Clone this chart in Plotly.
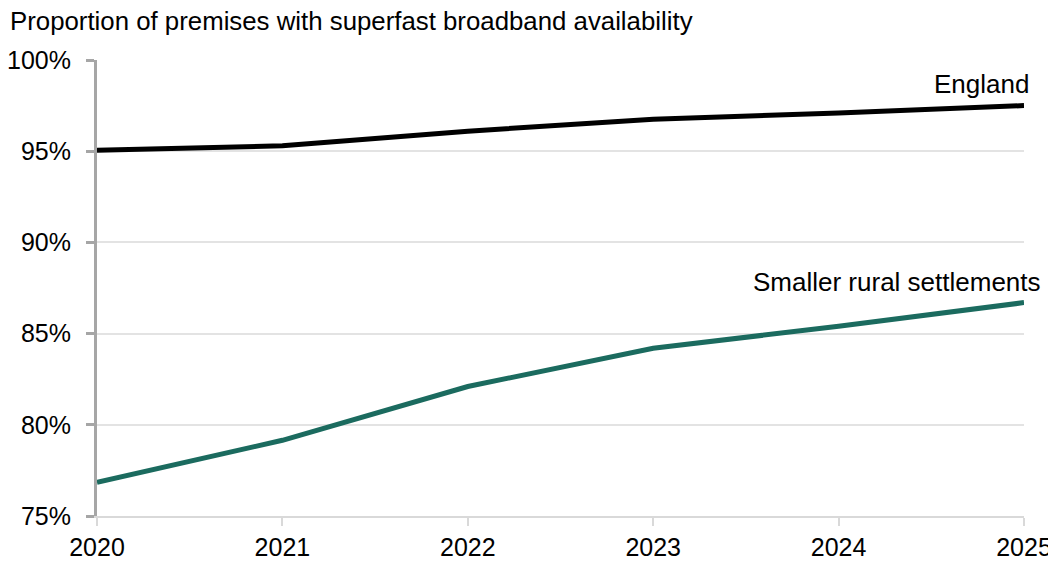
import plotly.graph_objects as go

years = [2020, 2021, 2022, 2023, 2024, 2025]
england = [95.05, 95.3, 96.1, 96.75, 97.1, 97.5]
rural = [76.85, 79.15, 82.1, 84.2, 85.4, 86.7]
y_ticks = [75, 80, 85, 90, 95, 100]
y_tick_labels = ["75%", "80%", "85%", "90%", "95%", "100%"]

FONT = "Liberation Sans, Arial, sans-serif"
FS = 25

# page body has an 8px margin; size the figure so it fits the 1056x561 window
W, H = 1048, 553

fig = go.Figure()
fig.add_trace(go.Scatter(x=years, y=england, mode="lines", name="England",
                         line=dict(color="#000000", width=5), cliponaxis=False))
fig.add_trace(go.Scatter(x=years, y=rural, mode="lines", name="Smaller rural settlements",
                         line=dict(color="#1b6b5f", width=5), cliponaxis=False))

fig.add_annotation(x=years[-1], y=england[-1], text="England", xref="x", yref="y",
                   xanchor="right", yanchor="middle", xshift=7, yshift=22, showarrow=False,
                   font=dict(family=FONT, size=26, color="#000000"))
fig.add_annotation(x=years[-1], y=rural[-1], text="Smaller rural settlements", xref="x", yref="y",
                   xanchor="right", yanchor="middle", xshift=19, yshift=21, showarrow=False,
                   font=dict(family=FONT, size=26, color="#000000"))

fig.update_layout(
    width=W, height=H,
    margin=dict(l=89, r=32, t=52, b=45),
    paper_bgcolor="white", plot_bgcolor="white",
    showlegend=False,
    font=dict(family=FONT, size=FS, color="#000000"),
    title=dict(text="Proportion of premises with superfast broadband availability",
               x=2/W, xanchor="left", y=1-13/H, yanchor="middle",
               font=dict(family=FONT, size=25.8, color="#000000")),
    xaxis=dict(range=[2020, 2025], tickvals=years, ticktext=[str(y) for y in years],
               showgrid=False, zeroline=False, showline=True, linecolor="#D9D9D9", linewidth=2,
               ticks="outside", ticklen=8, tickcolor="#D9D9D9", tickwidth=2,
               tickfont=dict(family=FONT, size=FS), automargin=False),
    yaxis=dict(range=[75, 100], tickvals=y_ticks, ticktext=y_tick_labels,
               showgrid=True, gridcolor="#E3E3E3", gridwidth=1.5, zeroline=False,
               showline=True, linecolor="#A6A6A6", linewidth=3,
               ticks="outside", ticklen=8, tickcolor="#A6A6A6", tickwidth=3,
               ticklabelstandoff=10,
               tickfont=dict(family=FONT, size=FS), automargin=False),
)

fig.write_html("out.html")
